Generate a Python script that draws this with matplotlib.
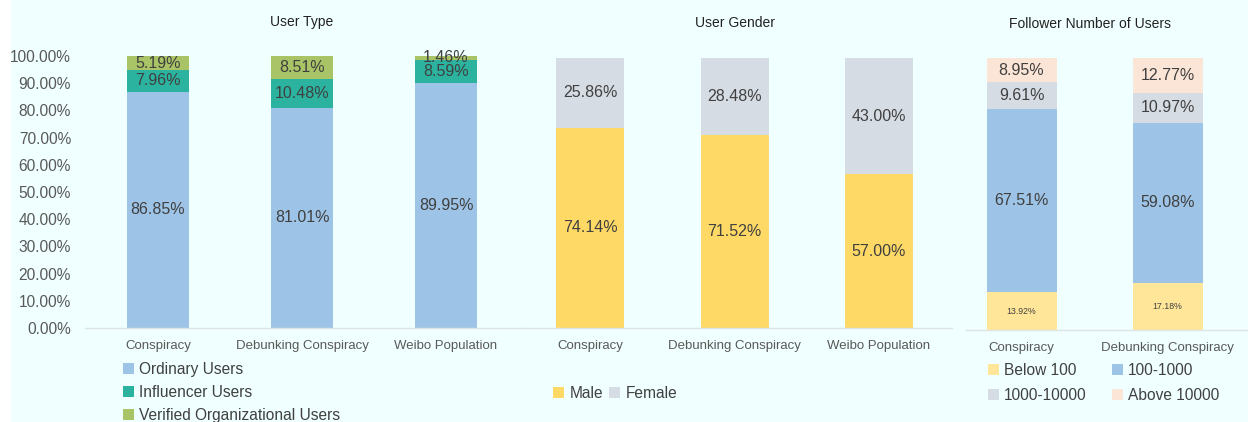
import matplotlib
matplotlib.use("Agg")
import matplotlib.pyplot as plt
from matplotlib.patches import Patch, Rectangle

plt.rcParams['font.family'] = ['Liberation Sans', 'DejaVu Sans']

# ---- data ----
type_cats = ["Conspiracy", "Debunking Conspiracy", "Weibo Population"]
type_series = ["Ordinary Users", "Influencer Users", "Verified Organizational Users"]
ordinary = [86.85, 81.01, 89.95]
influencer = [7.96, 10.48, 8.59]
verified = [5.19, 8.51, 1.46]

gender_cats = ["Conspiracy", "Debunking Conspiracy", "Weibo Population"]
gender_series = ["Male", "Female"]
male = [74.14, 71.52, 57.00]
female = [25.86, 28.48, 43.00]

foll_cats = ["Conspiracy", "Debunking Conspiracy"]
foll_series = ["Below 100", "100-1000", "1000-10000", "Above 10000"]
below100 = [13.92, 17.18]
f100_1000 = [67.51, 59.08]
f1000_10000 = [9.61, 10.97]
above10000 = [8.95, 12.77]

yticks = list(range(0, 101, 10))

# ---- style ----
W, H = 1248, 422
BG = "#f0ffff"
TXT = "#404040"
TICK = "#595959"
C_ORD, C_INF, C_VER = "#9dc3e6", "#2bb39f", "#a9c467"
C_MALE, C_FEM = "#ffd966", "#d6dce4"
C_B100, C_100, C_1000, C_ABOVE = "#ffe699", "#9dc3e6", "#d6dce4", "#fbe5d6"

fig = plt.figure(figsize=(W / 100, H / 100), dpi=100, facecolor=BG)
fig.patches.append(Rectangle((0, 0), 11 / W, 1, transform=fig.transFigure,
                             facecolor="white", edgecolor="none", zorder=0))


def make_ax(x0, x1, y_top=56, y_bot=328):
    ax = fig.add_axes([x0 / W, 1 - y_bot / H, (x1 - x0) / W, (y_bot - y_top) / H])
    ax.set_facecolor("none")
    for s in ["top", "right", "left"]:
        ax.spines[s].set_visible(False)
    ax.spines["bottom"].set_color("#dde5e5")
    ax.spines["bottom"].set_linewidth(1.0)
    ax.set_ylim(0, 100)
    ax.tick_params(axis="x", length=0, pad=9, labelsize=9.5, labelcolor=TICK)
    ax.tick_params(axis="y", length=0)
    return ax


def stack(ax, series, colors, width, fs, labelsizes=None):
    n = len(series[0])
    bottoms = [0] * n
    for k, (vals, col) in enumerate(zip(series, colors)):
        xs = list(range(n))
        ax.bar(xs, vals, width=width, bottom=bottoms, color=col, edgecolor="none")
        for i, v in enumerate(vals):
            size = fs if labelsizes is None else labelsizes[k]
            ax.text(i, bottoms[i] + v / 2, f"{v:.2f}%", ha="center", va="center",
                    fontsize=size, color=TXT, clip_on=False)
        bottoms = [b + v for b, v in zip(bottoms, vals)]


# Panel 1: User Type
ax1 = make_ax(85, 520)
stack(ax1, [ordinary, influencer, verified], [C_ORD, C_INF, C_VER], 62 / 144, 11.5)
ax1.set_xlim((85 - 158) / 144, (520 - 158) / 144)
ax1.set_xticks(range(len(type_cats)))
ax1.set_xticklabels(type_cats)
ax1.set_yticks(yticks)
ax1.set_yticklabels([f"{t:.2f}%" for t in yticks], fontsize=11.2, color=TICK)
ax1.tick_params(axis="y", pad=10)
fig.text(302 / W, 1 - 22 / H, "User Type", ha="center", va="center", fontsize=10, color="#222222")

# Panel 2: User Gender
ax2 = make_ax(520, 952, y_top=58)
stack(ax2, [male, female], [C_MALE, C_FEM], 68 / 144.5, 11.5)
ax2.set_xlim((520 - 590) / 144.5, (952 - 590) / 144.5)
ax2.set_xticks(range(len(gender_cats)))
ax2.set_xticklabels(gender_cats)
ax2.set_yticks([])
fig.text(735 / W, 1 - 23 / H, "User Gender", ha="center", va="center", fontsize=10, color="#222222")

# Panel 3: Follower Number of Users
ax3 = make_ax(966, 1248, y_top=58, y_bot=330)
stack(ax3, [below100, f100_1000, f1000_10000, above10000],
      [C_B100, C_100, C_1000, C_ABOVE], 70 / 146, 11.5, labelsizes=[6.3, 11.5, 11.5, 11.5])
ax3.set_xlim((966 - 1021.5) / 146, (1248 - 1021.5) / 146)
ax3.set_xticks(range(len(foll_cats)))
ax3.set_xticklabels(foll_cats)
ax3.set_yticks([])
fig.text(1090 / W, 1 - 24 / H, "Follower Number of Users", ha="center", va="center",
         fontsize=10, color="#222222")

# Legends
leg_kw = dict(frameon=False, fontsize=11.2, handlelength=0.7, handleheight=0.7,
              handletextpad=0.35, borderpad=0, borderaxespad=0, labelcolor=TXT)

h1 = [Patch(facecolor=c, edgecolor="none") for c in [C_ORD, C_INF, C_VER]]
fig.legend(h1, type_series, loc="upper left", bbox_to_anchor=(123 / W, 1 - 362 / H),
           labelspacing=0.52, **leg_kw)

h2 = [Patch(facecolor=c, edgecolor="none") for c in [C_MALE, C_FEM]]
fig.legend(h2, gender_series, loc="upper left", bbox_to_anchor=(553 / W, 1 - 386 / H),
           ncol=2, columnspacing=0.4, **leg_kw)

# row-major order in two columns: reorder for matplotlib's column-major fill
cols3 = [C_B100, C_100, C_1000, C_ABOVE]
order = [0, 2, 1, 3]
h3 = [Patch(facecolor=cols3[i], edgecolor="none") for i in order]
fig.legend(h3, [foll_series[i] for i in order], loc="upper left",
           bbox_to_anchor=(988 / W, 1 - 363 / H),
           ncol=2, columnspacing=1.6, labelspacing=0.62, **leg_kw)

fig.savefig("out.png", dpi=100, facecolor=BG)
